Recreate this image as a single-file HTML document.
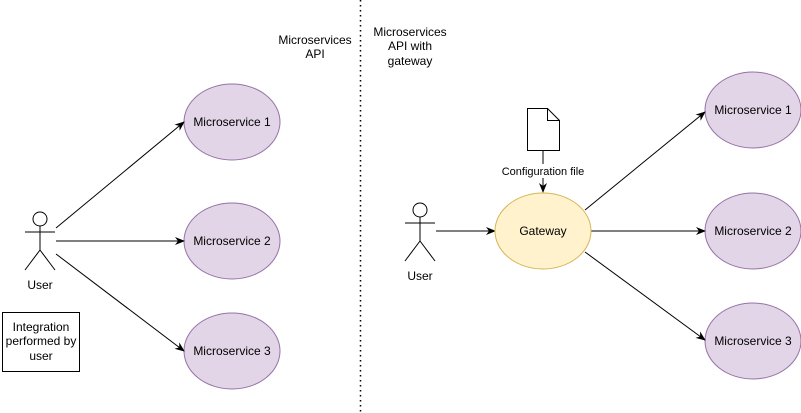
<!DOCTYPE html>
<html><head><meta charset="utf-8"><style>
html,body{margin:0;padding:0;background:#fff;}
svg{display:block;font-family:"Liberation Sans",Arial,sans-serif;}
</style></head><body>
<svg width="801" height="413" viewBox="0 0 801 413" xmlns="http://www.w3.org/2000/svg">
<defs>
<marker id="a" markerWidth="10" markerHeight="8" refX="9" refY="4" orient="auto" markerUnits="userSpaceOnUse">
<path d="M0,0 L10,4 L0,8 L3,4 Z" fill="#000"/>
</marker>
</defs>
<line x1="360.5" y1="0" x2="360.5" y2="413" stroke="#000" stroke-width="1.5" stroke-dasharray="1.5,3.5"/>
<g font-size="12" text-anchor="middle" fill="#000">
<text x="315" y="44">Microservices</text>
<text x="315" y="58">API</text>
<text x="410" y="36">Microservices</text>
<text x="410" y="50">API with</text>
<text x="410" y="65">gateway</text>
</g>
<!-- left user -->
<g stroke="#000" fill="#fff" stroke-width="1">
<circle cx="40" cy="219" r="7"/>
<line x1="40" y1="226" x2="40" y2="250"/>
<line x1="25" y1="232" x2="55" y2="232"/>
<line x1="40" y1="250" x2="25" y2="270"/>
<line x1="40" y1="250" x2="55" y2="270"/>
</g>
<text x="40" y="289" font-size="12" text-anchor="middle">User</text>
<rect x="2.5" y="312.5" width="77" height="59" fill="#fff" stroke="#000"/>
<g font-size="12" text-anchor="middle"><text x="41" y="331">Integration</text><text x="41" y="345">performed by</text><text x="41" y="360">user</text></g>
<g fill="#e1d5e7" stroke="#9673a6">
<ellipse cx="232" cy="122" rx="48" ry="38"/>
<ellipse cx="232" cy="241" rx="48" ry="38"/>
<ellipse cx="232" cy="351" rx="48" ry="38"/>
<ellipse cx="753" cy="110" rx="48" ry="38"/>
<ellipse cx="753" cy="231" rx="48" ry="38"/>
<ellipse cx="753" cy="341" rx="48" ry="38"/>
</g>
<g font-size="12" text-anchor="middle">
<text x="232" y="126">Microservice 1</text>
<text x="232" y="245">Microservice 2</text>
<text x="232" y="355">Microservice 3</text>
<text x="753" y="114">Microservice 1</text>
<text x="753" y="235">Microservice 2</text>
<text x="753" y="345">Microservice 3</text>
</g>
<g stroke="#000" marker-end="url(#a)">
<line x1="56" y1="228" x2="184" y2="122"/>
<line x1="56" y1="241" x2="184" y2="241"/>
<line x1="56" y1="254" x2="184" y2="351"/>
<line x1="436" y1="231" x2="495" y2="231"/>
<line x1="585" y1="210" x2="705" y2="112"/>
<line x1="591" y1="231" x2="705" y2="231"/>
<line x1="585" y1="252" x2="705" y2="340"/>
<line x1="543" y1="150" x2="543" y2="192"/>
</g>
<!-- right user -->
<g stroke="#000" fill="#fff">
<circle cx="420" cy="210" r="7"/>
<line x1="420" y1="217" x2="420" y2="241"/>
<line x1="405" y1="223" x2="435" y2="223"/>
<line x1="420" y1="241" x2="405" y2="261"/>
<line x1="420" y1="241" x2="435" y2="261"/>
</g>
<text x="420" y="280" font-size="12" text-anchor="middle">User</text>
<ellipse cx="543" cy="231" rx="48" ry="38" fill="#fff2cc" stroke="#d6b656"/>
<text x="543" y="235" font-size="12" text-anchor="middle">Gateway</text>
<path d="M527.5,108.5 H547.5 L559.5,120.5 V150.5 H527.5 Z" fill="#fff" stroke="#000"/>
<path d="M547.5,108.5 V120.5 H559.5" fill="none" stroke="#000"/>
<rect x="500" y="164" width="86" height="14" fill="#fff"/>
<text x="543" y="175" font-size="11" text-anchor="middle">Configuration file</text>
</svg>
</body></html>
